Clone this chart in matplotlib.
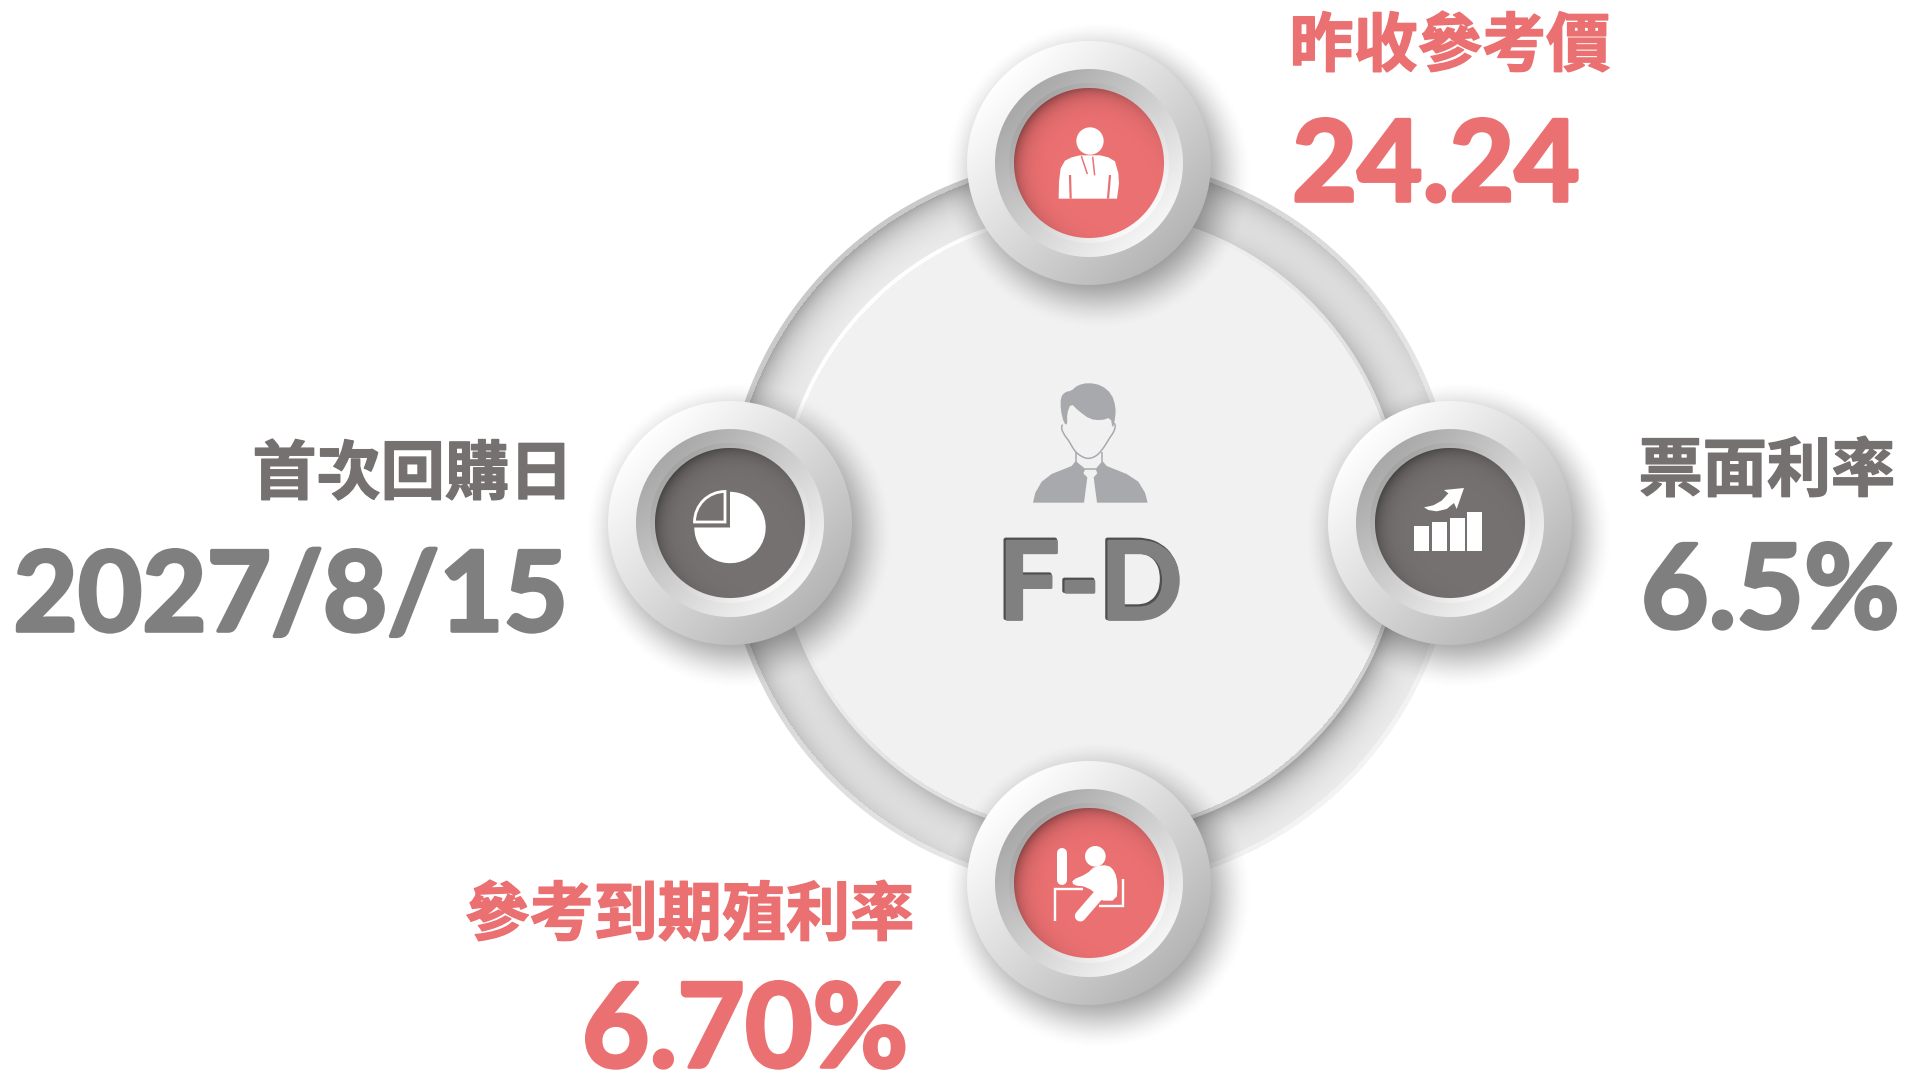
import matplotlib
matplotlib.use("Agg")
import matplotlib.pyplot as plt
import matplotlib.patheffects as pe
import numpy as np
from matplotlib.patches import Polygon, Wedge, Rectangle, Circle
from matplotlib.lines import Line2D

plt.rcParams['font.family'] = ['Noto Sans CJK TC', 'DejaVu Sans']

# the text of the graphic
code = "F-D"
labels = ["昨收參考價", "票面利率", "參考到期殖利率", "首次回購日"]
values = ["24.24", "6.5%", "6.70%", "2027/8/15"]
label_colors = ["#EB7071", "#767171", "#EB7071", "#767171"]
value_colors = ["#EB7071", "#7F7F7F", "#EB7071", "#7F7F7F"]

RED = "#EB7071"
DARK = "#767171"
GREY = "#A7A9AC"
CX, CY = 1090, 523

fig = plt.figure(figsize=(19.05, 10.74), dpi=100, facecolor="white")
ax = fig.add_axes([0, 0, 1, 1])
ax.axis("off")


def hex2rgb(c):
    return np.array(matplotlib.colors.to_rgb(c))


def grid(cx, cy, r):
    x0, y0 = int(cx - r), int(cy - r)
    x1, y1 = int(cx + r), int(cy + r)
    xs, ys = np.meshgrid(np.arange(x0, x1) + 0.5, np.arange(y0, y1) + 0.5)
    return xs - cx, ys - cy, (x0, x1, y1, y0)


def show(rgb, alpha, ext, z):
    img = np.dstack([rgb, alpha])
    ax.imshow(np.clip(img, 0, 1), extent=ext, interpolation="nearest", aspect="auto", zorder=z)


def lit(dx, dy, r):
    # 0 at the upper left, 1 at the lower right
    t = (dx + dy) / (2 ** 0.5 * r)
    return np.clip((t + 1) / 2, 0, 1)


def disc(cx, cy, r, c0, c1, z):
    dx, dy, ext = grid(cx, cy, r + 2)
    d = np.hypot(dx, dy)
    t = lit(dx, dy, r)[..., None]
    rgb = hex2rgb(c0) * (1 - t) + hex2rgb(c1) * t
    show(rgb, np.clip(r - d + 0.5, 0, 1), ext, z)


def shadow(cx, cy, r, blur, a, off, z):
    dx, dy, ext = grid(cx + off[0], cy + off[1], r + blur + 2)
    d = np.hypot(dx, dy)
    s = np.clip((r + blur - d) / (2 * blur), 0, 1)
    alpha = a * s * s * (3 - 2 * s)
    show(np.zeros(alpha.shape + (3,)), alpha, ext, z)


def ring():
    R, Rin = 366, 313
    dx, dy, ext = grid(CX, CY, R + 2)
    d = np.hypot(dx, dy)
    t = lit(dx, dy, d + 1e-6)
    base = np.full(d.shape, 0.94)
    outer = np.exp(-np.clip(R - 5 - d, 0, None) / 17) * (1 - t) * 0.29
    inner = np.exp(-np.clip(d - Rin, 0, None) / 17) * t * 0.32
    v = base - outer - inner
    rim = (d > R - 5)
    v = np.where(rim, 0.79 + (0.955 - 0.79) * t, v)
    rgb = np.dstack([v, v, v])
    show(rgb, np.clip(R - d + 0.5, 0, 1), ext, 1)
    # face of the centre disc with its edge
    e = (1 - t) * 1.0 + t * 0.81
    v2 = np.where(d > Rin - 4, e, 0.949)
    show(np.dstack([v2, v2, v2]), np.clip(Rin - d + 0.5, 0, 1), ext, 2)


def button(cx, cy, face, z=3):
    shadow(cx, cy, 122, 34, 0.42, (9, 12), z)
    disc(cx, cy, 122, "#FFFFFF", "#B4B4B4", z + 0.1)
    disc(cx, cy, 94, "#A8A8A8", "#F6F6F6", z + 0.2)
    disc(cx, cy, 80, "#A4A4A4", "#FBFBFB", z + 0.3)
    disc(cx, cy, 75, face, face, z + 0.4)
    dx, dy, ext = grid(cx, cy, 77)
    d = np.hypot(dx, dy)
    t = lit(dx, dy, d + 1e-6)
    a = 0.42 * np.exp(-np.clip(75 - d, 0, None) / 9) * (1 - t) ** 1.5
    a = a * np.clip(75 - d + 0.5, 0, 1)
    show(np.zeros(a.shape + (3,)), a, ext, z + 0.5)


def smooth(pts, n=2, closed=True):
    p = np.array(pts, dtype=float)
    for _ in range(n):
        q = np.roll(p, -1, axis=0) if closed else p[1:]
        a = p if closed else p[:-1]
        p = np.column_stack([a * 0.75 + q * 0.25, a * 0.25 + q * 0.75]).reshape(-1, 2)
    return p


def fill(pts, ox, oy, color, z=5, scale=3.0):
    p = np.array(pts, dtype=float) / scale + [ox, oy]
    ax.add_patch(Polygon(p, closed=True, fc=color, ec="none", zorder=z))


def stroke(pts, ox, oy, color, lw, z=5, cap="butt", scale=3.0):
    p = np.array(pts, dtype=float) / scale + [ox, oy]
    ax.add_line(Line2D(p[:, 0], p[:, 1], color=color, lw=lw * 0.72, solid_capstyle=cap,
                       solid_joinstyle="miter", zorder=z))


def dot(x, y, r, ox, oy, color, z=5):
    ax.add_patch(Circle((x / 3 + ox, y / 3 + oy), r / 3, fc=color, ec="none", zorder=z))


ring()
button(1089, 163, RED)
button(1450, 523, DARK)
button(1089, 883, RED)
button(730, 523, DARK)

# person, top button
ox, oy = 940, 0
dot(450, 423, 41, ox, oy, "white")
fill([(356, 596), (357, 545), (362, 505), (375, 482), (395, 472), (420, 466), (480, 466), (505, 472),
      (525, 484), (535, 520), (537, 550), (531, 596)], ox, oy, "white")
stroke([(390, 525), (392, 596)], ox, oy, RED, 2.2, 6)
stroke([(510, 525), (504, 596)], ox, oy, RED, 2.2, 6)
stroke([(424, 468), (442, 522)], ox, oy, RED, 1.5, 6)
stroke([(458, 470), (464, 526)], ox, oy, RED, 1.5, 6)

# seated user, bottom button
ox, oy = 940, 740
stroke([(367, 338), (367, 420)], ox, oy, "white", 10, 5, "round")
stroke([(428, 447), (345, 447), (345, 544)], ox, oy, "white", 2.4)
dot(466, 349, 31, ox, oy, "white")
fill(smooth([(465, 378), (505, 375), (525, 395), (533, 430), (530, 482), (480, 482), (480, 470), (440, 440),
             (400, 436), (396, 420), (440, 402)], 1), ox, oy, "white")
stroke([(478, 462), (421, 528)], ox, oy, "white", 11, 5, "round")
stroke([(478, 499), (550, 499), (550, 418)], ox, oy, "white", 2.4)

# pie, left button
ox, oy = 590, 380
ax.add_patch(Wedge((ox + 140, oy + 147.5), 35.7, 270, 180, fc="white", ec="none", zorder=5))
ax.add_patch(Wedge((ox + 135, oy + 142), 30.5, 180, 270, fc="none", ec="white", lw=2.0, zorder=5))

# bars and arrow, right button
ox, oy = 1300, 380
bar_l = [342, 396, 450, 501]
bar_t = [437, 427, 413, 396]
for l, t in zip(bar_l, bar_t):
    ax.add_patch(Rectangle((ox + l / 3, oy + t / 3), 45.5 / 3, (513 - t) / 3, fc="white", ec="none", zorder=5))
fill([(372, 382), (400, 376), (425, 362), (445, 340), (432, 330), (492, 324), (470, 387), (462, 369), (440, 387),
      (410, 394), (385, 390)], ox, oy, "white")

# centre figure
ox, oy = 960, 360
fill(smooth([(312, 190), (302, 150), (302, 112), (315, 96), (335, 92), (352, 76), (385, 68), (425, 76), (455, 102),
             (467, 140), (466, 172), (458, 208), (452, 172), (425, 181), (390, 178), (355, 152), (333, 130),
             (321, 160), (322, 195)], 1), ox, oy, GREY, 3.6)
stroke(smooth([(310, 187), (303, 205), (315, 228), (325, 240), (345, 275), (365, 290), (385, 297), (410, 288),
               (430, 265), (448, 235), (462, 215), (467, 195), (458, 185)], 2, closed=False), ox, oy, GREY, 1.5, 3.6)
stroke([(347, 275), (347, 305)], ox, oy, GREY, 1.5, 3.6)
stroke([(427, 275), (427, 305)], ox, oy, GREY, 1.5, 3.6)
stroke([(375, 327), (407, 327)], ox, oy, GREY, 1.5, 3.6)
fill([(219, 428), (226, 398), (245, 365), (275, 342), (335, 318), (347, 303), (376, 327), (370, 340), (382, 352),
      (372, 428)], ox, oy, GREY, 3.6)
fill([(411, 428), (401, 352), (412, 340), (407, 327), (427, 303), (440, 318), (500, 342), (535, 365), (555, 398),
      (563, 428)], ox, oy, GREY, 3.6)

# texts
label_x = [1610, 1895, 914, 573]
label_y = [66, 491, 935, 494]
value_x = [1292, 1641, 908, 568]
value_ha = ["left", "left", "right", "right"]
value_y = [201, 628, 1067, 631]
value_size = [81, 84, 84, 80]
heavy = [pe.withStroke(linewidth=1.0, foreground=c) for c in label_colors]
bold = [pe.withStroke(linewidth=2.6, foreground=c) for c in value_colors]
for i in range(4):
    ax.text(label_x[i], label_y[i], labels[i], color=label_colors[i], fontsize=46.2, fontweight="bold",
            ha="right", va="baseline", zorder=8, path_effects=[heavy[i]])
    ax.text(value_x[i], value_y[i], values[i], color=value_colors[i], family="Lato", fontsize=value_size[i],
            fontweight="bold", ha=value_ha[i], va="baseline", zorder=8, path_effects=[bold[i]])

ax.text(1089, 618, code, color="#4F4F4F", family="Lato", fontsize=78, fontweight="bold", ha="center", va="baseline",
        zorder=8, path_effects=[pe.withStroke(linewidth=3.0, foreground="#4F4F4F")])
ax.text(1090.5, 619.5, code, color="#808080", family="Lato", fontsize=78, fontweight="bold", ha="center", va="baseline",
        zorder=8.1, path_effects=[pe.withStroke(linewidth=2.0, foreground="#808080")])

ax.set_xlim(0, 1905)
ax.set_ylim(1074, 0)
fig.savefig("out.png", dpi=100, facecolor="white")
